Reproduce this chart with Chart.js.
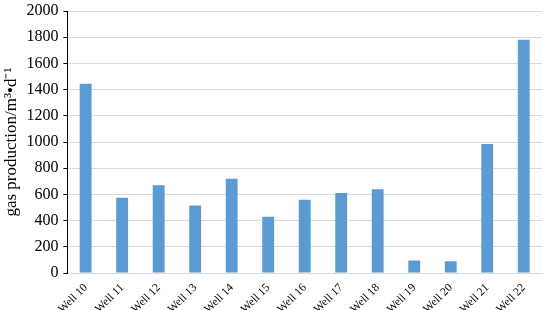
<!DOCTYPE html>
<html><head><meta charset="utf-8">
<script src="https://cdn.jsdelivr.net/npm/chart.js@4/dist/chart.umd.min.js"></script>
<style>html,body{margin:0;padding:0;background:#fff}#w{width:550px;height:310px}</style>
</head><body><div id="w"><canvas id="c"></canvas></div>
<script>
const categories = ["Well 10","Well 11","Well 12","Well 13","Well 14","Well 15","Well 16","Well 17","Well 18","Well 19","Well 20","Well 21","Well 22"];
const gasProduction = [1445, 575, 670, 515, 720, 430, 560, 610, 640, 95, 90, 985, 1780];
const yTitle = "gas production/m\u00B3\u2022d\u207B\u00B9";
const SERIF = "'Liberation Serif', 'Times New Roman', serif";
new Chart(document.getElementById('c'), {
  type: 'bar',
  data: { labels: categories, datasets: [{ data: gasProduction, backgroundColor: '#5B9BD5', borderWidth: 0, barPercentage: 0.65, categoryPercentage: 0.5 }] },
  options: {
    responsive: true, maintainAspectRatio: false, animation: false,
    layout: { padding: { top: 0, right: 8, left: 1, bottom: 0 } },
    plugins: { legend: { display: false }, tooltip: { enabled: false } },
    scales: {
      x: {
        grid: { display: false },
        border: { color: '#d9d9d9', width: 1 },
        ticks: { color: '#000', font: { family: SERIF, size: 11.5 }, maxRotation: 45, minRotation: 45, padding: 0 },
        afterFit: s => { s.height = 37; }
      },
      y: {
        min: 0, max: 2000,
        grid: { color: '#d9d9d9', tickColor: '#000', tickLength: 4 },
        border: { color: '#000', width: 1 },
        ticks: { stepSize: 200, color: '#000', font: { family: SERIF, size: 16 }, padding: 5, callback: v => String(v) },
        title: { display: true, text: yTitle, color: '#000', font: { family: SERIF, size: 17 }, padding: 0 },
        afterFit: s => { s.paddingTop = 11; }
      }
    }
  }
});
</script></body></html>
